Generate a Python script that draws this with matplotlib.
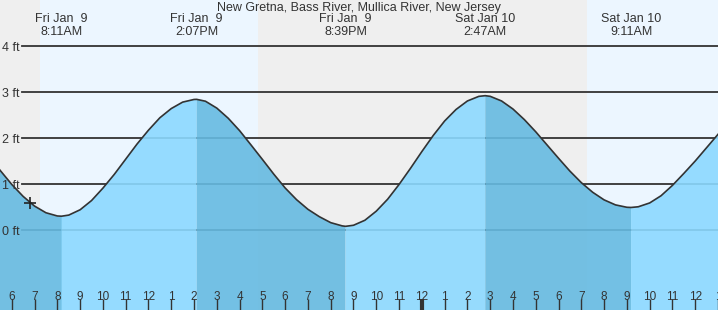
import matplotlib.pyplot as plt
import numpy as np

plt.rcParams['font.family'] = ['Liberation Sans', 'DejaVu Sans']

station = "New Gretna, Bass River, Mullica River, New Jersey"

# hours counted from midnight Fri Jan 9, tide height in ft
hours = [5.0, 5.5, 6.0, 6.5, 7.0, 7.5, 8.0, 8.183, 8.5, 9.0, 9.5, 10.0, 10.5,
         11.0, 11.5, 12.0, 12.5, 13.0, 13.5, 14.0, 14.117, 14.5, 15.0, 15.5,
         16.0, 16.5, 17.0, 17.5, 18.0, 18.5, 19.0, 19.5, 20.0, 20.5, 20.65,
         21.0, 21.5, 22.0, 22.5, 23.0, 23.5, 24.0, 24.5, 25.0, 25.5, 26.0,
         26.5, 26.783, 27.0, 27.5, 28.0, 28.5, 29.0, 29.5, 30.0, 30.5, 31.0,
         31.5, 32.0, 32.5, 33.0, 33.183, 33.5, 34.0, 34.5, 35.0, 35.5, 36.0,
         36.5, 37.0]
heights = [1.61, 1.29, 0.99, 0.73, 0.52, 0.375, 0.305, 0.30, 0.324, 0.44, 0.64, 0.91, 1.21,
           1.54, 1.87, 2.17, 2.44, 2.64, 2.78, 2.838, 2.84, 2.80, 2.65, 2.43,
           2.16, 1.85, 1.535, 1.215, 0.914, 0.66, 0.45, 0.29, 0.16, 0.09, 0.08,
           0.103, 0.212, 0.41, 0.67, 0.99, 1.34, 1.705, 2.055, 2.37, 2.62, 2.805,
           2.905, 2.92, 2.906, 2.805, 2.63, 2.40, 2.135, 1.847, 1.56, 1.28, 1.03,
           0.82, 0.655, 0.546, 0.494, 0.49, 0.505, 0.588, 0.745, 0.97, 1.23, 1.50,
           1.79, 2.08]

extreme_hours = [8.183, 14.117, 20.65, 26.783, 33.183]
extreme_days = ["Fri Jan  9", "Fri Jan  9", "Fri Jan  9", "Sat Jan 10", "Sat Jan 10"]
extreme_times = ["8:11AM", "2:07PM", "8:39PM", "2:47AM", "9:11AM"]

daylight = [(7.24, 16.80), (31.24, 40.8)]
now_hour, now_height = 6.80, 0.58

tick_hours = list(range(6, 38))
tick_labels = ['6', '7', '8', '9', '10', '11', '12', '1', '2', '3', '4', '5', '6', '7', '8', '9',
               '10', '11', '12', '1', '2', '3', '4', '5', '6', '7', '8', '9', '10', '11', '12', '1']
ft_levels = [0, 1, 2, 3, 4]

txt = '#333333'
dark = '#66bae1'
light = '#8cd9ff'

fig = plt.figure(figsize=(7.18, 3.10), dpi=100)
ax = fig.add_axes([0, 0, 1, 1])
ax.set_xlim(5.483, 36.988)
ax.set_ylim(-1.739, 5.0)
ax.set_facecolor('#efefef')
for a, b in daylight:
    ax.axvspan(a, b, color='#ecf6ff', lw=0, zorder=0)

for lvl in ft_levels:
    ax.axhline(lvl, xmin=22 / 718, color=txt, lw=1.3, zorder=1)
    ax.text(2 / 718, lvl, f'{lvl} ft', transform=ax.get_yaxis_transform(),
            ha='left', va='center_baseline', fontsize=9, color=txt, zorder=5)

# rising water light, falling water dark
t = np.array(hours)
h = np.array(heights)
cut = [0] + [hours.index(e) for e in extreme_hours] + [len(hours) - 1]
for i0, i1 in zip(cut[:-1], cut[1:]):
    seg_t = t[i0:i1 + 1]
    seg_h = h[i0:i1 + 1]
    col = dark if seg_h[-1] < seg_h[0] else light
    ax.fill_between(seg_t, seg_h, -5, color=col, alpha=0.9, lw=0, zorder=2)
ax.plot(t, h, color=txt, lw=1.2, zorder=3, solid_joinstyle='round')
ax.plot(now_hour, now_height, marker='+', ms=9, mew=1.2, color='#222222', zorder=4)

tr = ax.get_xaxis_transform()
for eh, d, tm in zip(extreme_hours, extreme_days, extreme_times):
    ax.text(eh, 1 - 19 / 310, d, transform=tr, ha='center', va='center', fontsize=9, color=txt)
    ax.text(eh, 1 - 32 / 310, tm, transform=tr, ha='center', va='center', fontsize=9, color=txt)
ax.text(0.5, 1 - 8 / 310, station, transform=ax.transAxes, ha='center', va='center',
        fontsize=9, color=txt)

ax.set_xticks(tick_hours)
ax.set_xticklabels(tick_labels)
ax.tick_params(axis='x', direction='in', length=8, width=1, color=txt,
               labelcolor=txt, labelsize=8.5, pad=-14)
ax.xaxis.get_major_ticks()[tick_hours.index(24)].tick1line.set_markeredgewidth(3)
ax.xaxis.set_zorder(5)
ax.set_yticks([])
for s in ax.spines.values():
    s.set_visible(False)

fig.savefig('out.png', dpi=100)
